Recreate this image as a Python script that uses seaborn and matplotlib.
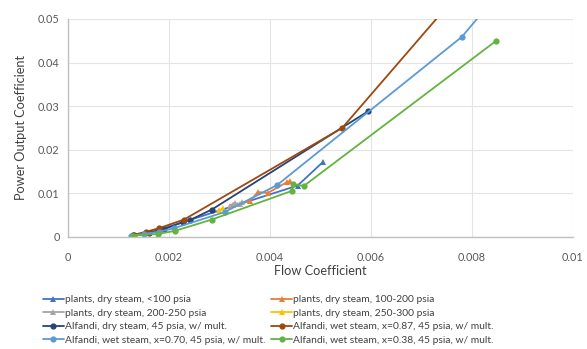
import matplotlib
matplotlib.use("Agg")
import matplotlib.pyplot as plt
import seaborn as sns
import pandas as pd

# Flow coefficient (x) vs power output coefficient (y) for each series
plants_lt100_x = [0.00130, 0.00160, 0.00455, 0.00505]
plants_lt100_y = [0.0004, 0.0009, 0.0118, 0.0172]

plants_100_200_x = [0.00327, 0.00360, 0.00376, 0.00396, 0.00434, 0.00440]
plants_100_200_y = [0.0073, 0.0082, 0.0103, 0.0101, 0.0126, 0.0128]

plants_200_250_x = [0.00320, 0.00330, 0.00340, 0.00345]
plants_200_250_y = [0.0072, 0.0078, 0.0076, 0.0080]

plants_250_300_x = [0.00300, 0.00307]
plants_250_300_y = [0.0061, 0.0066]

alf_dry_x = [0.00128, 0.00160, 0.00190, 0.00228, 0.00242, 0.00285, 0.00594]
alf_dry_y = [0.0004, 0.0010, 0.0018, 0.0034, 0.0039, 0.0063, 0.0288]

alf_wet87_x = [0.00130, 0.00155, 0.00180, 0.00230, 0.00543, 0.00760]
alf_wet87_y = [0.0005, 0.0012, 0.0020, 0.0040, 0.0250, 0.0541]

alf_wet70_x = [0.00125, 0.00150, 0.00180, 0.00210, 0.00310, 0.00414, 0.00780, 0.00840]
alf_wet70_y = [0.0003, 0.0007, 0.0012, 0.0020, 0.0057, 0.0119, 0.0459, 0.0541]

alf_wet38_x = [0.00129, 0.00178, 0.00212, 0.00285, 0.00444, 0.00446, 0.00467, 0.00848]
alf_wet38_y = [0.0003, 0.0007, 0.0014, 0.0040, 0.0106, 0.0121, 0.0117, 0.0450]

labels = [
    "plants, dry steam, <100 psia",
    "plants, dry steam, 100-200 psia",
    "plants, dry steam, 200-250 psia",
    "plants, dry steam, 250-300 psia",
    "Alfandi, dry steam, 45 psia, w/ mult.",
    "Alfandi, wet steam, x=0.87, 45 psia, w/ mult.",
    "Alfandi, wet steam, x=0.70, 45 psia, w/ mult.",
    "Alfandi, wet steam, x=0.38, 45 psia, w/ mult.",
]
xs = [plants_lt100_x, plants_100_200_x, plants_200_250_x, plants_250_300_x,
      alf_dry_x, alf_wet87_x, alf_wet70_x, alf_wet38_x]
ys = [plants_lt100_y, plants_100_200_y, plants_200_250_y, plants_250_300_y,
      alf_dry_y, alf_wet87_y, alf_wet70_y, alf_wet38_y]
colors = ["#4472C4", "#ED7D31", "#A5A5A5", "#FFC000",
          "#264478", "#9E480E", "#5B9BD5", "#62B43E"]
markers = ["^", "^", "^", "^", "o", "o", "o", "o"]

x_ticks = [0, 0.002, 0.004, 0.006, 0.008, 0.01]
x_ticklabels = ["0", "0.002", "0.004", "0.006", "0.008", "0.01"]
y_ticks = [0, 0.01, 0.02, 0.03, 0.04, 0.05]
y_ticklabels = ["0", "0.01", "0.02", "0.03", "0.04", "0.05"]

sns.set_theme(style="white")
plt.rcParams["font.family"] = ["Lato", "DejaVu Sans"]

fig = plt.figure(figsize=(5.87, 3.49), dpi=100)
ax = fig.add_axes([0.1158, 0.321, 0.8602, 0.6246])

for x, y, lab, c, m in zip(xs, ys, labels, colors, markers):
    df = pd.DataFrame({"x": x, "y": y})
    sns.lineplot(data=df, x="x", y="y", sort=False, estimator=None, ax=ax,
                 color=c, marker=m, markersize=4.5, markeredgewidth=0,
                 linewidth=1.3, label=lab)

ax.set_xlim(0, 0.01)
ax.set_ylim(0, 0.05)
ax.set_xticks(x_ticks)
ax.set_xticklabels(x_ticklabels)
ax.set_yticks(y_ticks)
ax.set_yticklabels(y_ticklabels)
ax.tick_params(axis="both", labelsize=7.8, colors="#595959", length=0)
ax.tick_params(axis="x", pad=11)
ax.tick_params(axis="y", pad=6)
ax.grid(True, color="#E4E4E4", linewidth=0.8)
ax.set_axisbelow(True)
for s in ["top", "right"]:
    ax.spines[s].set_visible(False)
for s in ["left", "bottom"]:
    ax.spines[s].set_color("#BFBFBF")
    ax.spines[s].set_linewidth(1.0)

ax.set_xlabel("Flow Coefficient", fontsize=9.2, color="#404040", labelpad=1)
ax.set_ylabel("Power Output Coefficient", fontsize=9.2, color="#404040", labelpad=8)

handles, labs = ax.get_legend_handles_labels()
ax.get_legend().remove()
order = [0, 2, 4, 6, 1, 3, 5, 7]
fig.legend([handles[i] for i in order], [labs[i] for i in order],
           loc="lower left", bbox_to_anchor=(0.063, -0.006), ncol=2,
           frameon=False, fontsize=7.4, labelcolor="#404040",
           handlelength=2.0, handletextpad=0.15, columnspacing=0.55,
           labelspacing=0.42, borderaxespad=0.2)

fig.savefig("out.png", dpi=100)
